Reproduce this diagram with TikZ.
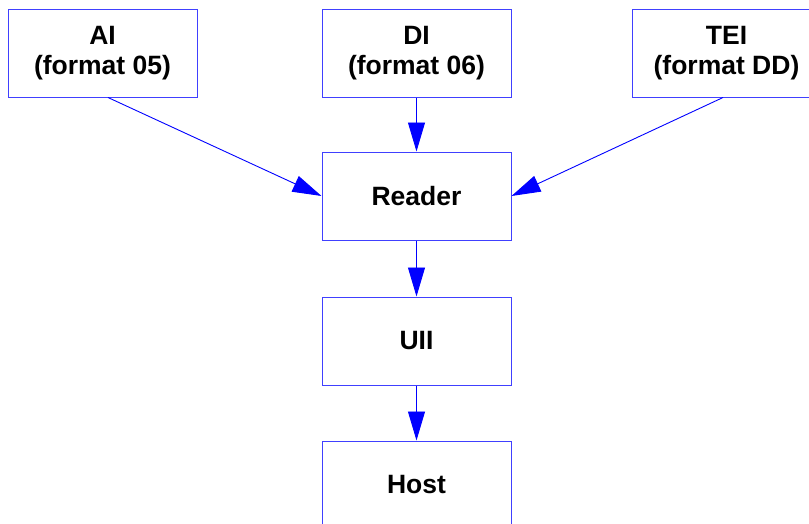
\documentclass[tikz,border=0pt]{standalone}
\usepackage{fontspec}
\setmainfont{Liberation Sans}
\usetikzlibrary{arrows.meta}
\newcommand{\twolines}[2]{\raisebox{1.5pt}{\begin{tabular}{@{}c@{}}#1\\#2\end{tabular}}}
\begin{document}
\begin{tikzpicture}[x=1pt,y=-1pt,
  box/.style={draw=blue!75,line width=1pt,minimum width=189pt,minimum height=88pt,inner sep=0pt,
    font=\fontsize{26.5}{30}\selectfont\bfseries,align=center},
  conn/.style={draw=blue,line width=0.9pt,-{Triangle[length=29pt,width=17pt]}}]
\useasboundingbox (0,0) rectangle (809,523);
\clip (0,0) rectangle (809,523);
\node[box] (ai) at (102.5,53) {\twolines{AI}{(format 05)}};
\node[box] (di) at (416.5,53) {\twolines{DI}{(format 06)}};
\node[box] (tei) at (726.5,53) {\twolines{TEI}{(format DD)}};
\node[box] (reader) at (416.5,196) {Reader};
\node[box] (uii) at (416.5,341) {UII};
\node[box] (host) at (416.5,485) {Host};
\draw[conn] ([xshift=5.5pt]ai.south) -- (reader.west);
\draw[conn] (di) -- (reader);
\draw[conn] ([xshift=-3.5pt]tei.south) -- (reader.east);
\draw[conn] (reader) -- (uii);
\draw[conn] (uii) -- (host);
\end{tikzpicture}
\end{document}
